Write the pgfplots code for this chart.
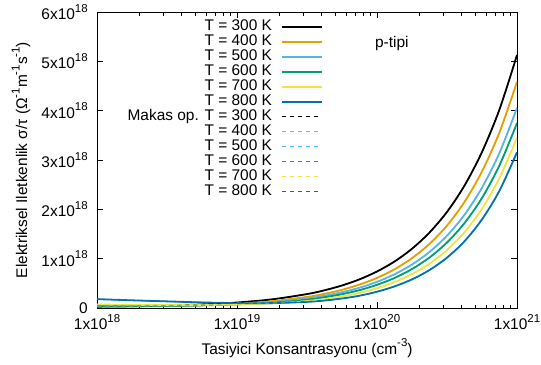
\documentclass[border=0pt]{standalone}
\usepackage{fontspec}
\setmainfont{Liberation Sans}
\usepackage{pgfplots}
\usepackage{pgfplotstable}
\pgfplotsset{compat=1.18}
\definecolor{c1}{HTML}{000000}
\definecolor{c2}{HTML}{E69F00}
\definecolor{c3}{HTML}{56B4E9}
\definecolor{c4}{HTML}{009E73}
\definecolor{c5}{HTML}{F0E442}
\definecolor{c6}{HTML}{0072B2}
\newcommand\sps[1]{\raisebox{0.48em}{\fontsize{11.5}{12}\selectfont #1}}
% y in units of 1e18
\pgfplotstableread{
x          T300    T400    T500    T600    T700    T800
1e18       0.0274  0.0288  0.0340  0.0424  0.0704  0.1796
1.778e18   0.0352  0.0332  0.0363  0.0422  0.0645  0.1559
3.162e18   0.0489  0.0422  0.0425  0.0454  0.0613  0.1343
5.623e18   0.0722  0.0585  0.0549  0.0536  0.0615  0.1129
1e19       0.1112  0.0879  0.0785  0.0719  0.0705  0.0996
1.778e19   0.1756  0.1380  0.1207  0.1067  0.0937  0.0993
3.162e19   0.2822  0.2243  0.1940  0.1699  0.1426  0.1243
4.217e19   0.359   0.287   0.249   0.218   0.182   0.152
5.623e19   0.4564  0.3685  0.3194  0.2807  0.2354  0.1929
7.499e19   0.581   0.474   0.411   0.362   0.305   0.249
1e20       0.740   0.610   0.530   0.470   0.400   0.330
1.334e20   0.943   0.785   0.684   0.609   0.524   0.438
1.778e20   1.201   1.010   0.8815  0.790   0.686   0.5805
2.371e20   1.530   1.300   1.137   1.024   0.898   0.770
3.162e20   1.948   1.672   1.4665  1.328   1.175   1.021
4.217e20   2.483   2.152   1.891   1.722   1.538   1.354
5.623e20   3.163   2.769   2.440   2.232   2.014   1.797
7.499e20   4.028   3.564   3.146   2.894   2.637   2.380
1e21       5.130   4.585   4.058   3.750   3.452   3.159
}\data
\begin{document}
\fontsize{15.5}{18}\selectfont
\begin{tikzpicture}
\begin{axis}[
  scale only axis, width=420bp, height=296bp,
  xmode=log, xmin=1e18, xmax=1e21, ymin=0, ymax=6,
  xtick={1e18,1e19,1e20,1e21},
  xticklabels={1x10\sps{18},1x10\sps{19},1x10\sps{20},1x10\sps{21}},
  ytick={0,1,2,3,4,5,6},
  yticklabels={0,1x10\sps{18},2x10\sps{18},3x10\sps{18},4x10\sps{18},5x10\sps{18},6x10\sps{18}},
  tick align=inside, major tick length=6bp, minor tick length=3.5bp,
  axis line style={line width=0.9bp},
  every tick/.style={black, line width=0.7bp},
  xticklabel style={yshift=-1bp},
  yticklabel style={xshift=-4bp},
  xlabel={Tasiyici Konsantrasyonu (cm\sps{-3})},
  ylabel={Elektriksel Iletkenlik σ/τ (Ω\sps{-1}m\sps{-1}s\sps{-1})},
  every axis x label/.style={at={(axis description cs:0.5,0)}, anchor=center, yshift=-40bp},
  every axis y label/.style={at={(axis description cs:-0.181,0.5)}, anchor=center, rotate=90},
  legend plot pos=right,
  legend cell align=right,
  legend style={at={(0.545,0.981)}, anchor=north east, draw=none, fill=none,
    row sep=1bp, column sep=9bp, nodes={inner sep=0pt, text height=10.5bp, text depth=3.5bp}},
  legend image code/.code={\draw[#1] (0bp,0bp) -- (40bp,0bp);},
]
\addplot[c1, line width=1.8bp, smooth] table[x=x,y=T300]{\data};
\addlegendentry{T = 300 K}
\addplot[c2, line width=1.8bp, smooth] table[x=x,y=T400]{\data};
\addlegendentry{T = 400 K}
\addplot[c3, line width=1.8bp, smooth] table[x=x,y=T500]{\data};
\addlegendentry{T = 500 K}
\addplot[c4, line width=1.8bp, smooth] table[x=x,y=T600]{\data};
\addlegendentry{T = 600 K}
\addplot[c5, line width=1.8bp, smooth] table[x=x,y=T700]{\data};
\addlegendentry{T = 700 K}
\addplot[c6, line width=1.8bp, smooth] table[x=x,y=T800]{\data};
\addlegendentry{T = 800 K}
\addplot[c1, line width=1bp, dash pattern=on 4bp off 4bp, smooth] table[x=x,y=T300]{\data};
\addlegendentry{Makas op. T = 300 K}
\addplot[c2, line width=1bp, dash pattern=on 4bp off 4bp, smooth] table[x=x,y=T400]{\data};
\addlegendentry{T = 400 K}
\addplot[c3, line width=1bp, dash pattern=on 4bp off 4bp, smooth] table[x=x,y=T500]{\data};
\addlegendentry{T = 500 K}
\addplot[c4, line width=1bp, dash pattern=on 4bp off 4bp, smooth] table[x=x,y=T600]{\data};
\addlegendentry{T = 600 K}
\addplot[c5, line width=1bp, dash pattern=on 4bp off 4bp, smooth] table[x=x,y=T700]{\data};
\addlegendentry{T = 700 K}
\addplot[c6, line width=1bp, dash pattern=on 4bp off 4bp, smooth] table[x=x,y=T800]{\data};
\addlegendentry{T = 800 K}
\node at (rel axis cs:0.702,0.895) {p-tipi};
\end{axis}
\pgfresetboundingbox
\path[use as bounding box] ([shift={(-97bp,-57bp)}]current axis.south west) rectangle ([shift={(24bp,12bp)}]current axis.north east);
\end{tikzpicture}
\end{document}
